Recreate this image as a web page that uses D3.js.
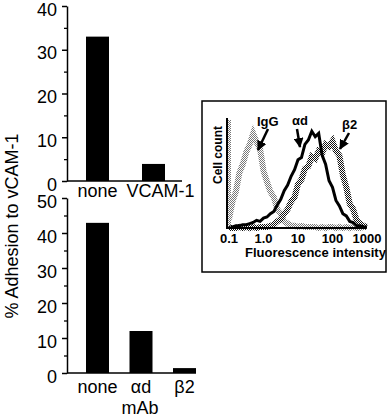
<!DOCTYPE html>
<html>
<head>
<meta charset="utf-8">
<script src="https://cdn.jsdelivr.net/npm/d3@7"></script>
<style>
  body { margin: 0; background: #fff; }
  svg { display: block; font-family: "Liberation Sans", Arial, sans-serif; }
</style>
</head>
<body>
<div id="chart"></div>
<script>
// top panel: adhesion to VCAM-1, with or without blocking VCAM-1
var topCats = ['none', 'VCAM-1'];
var topValues = [33, 3.9];
var topTicks = [0, 10, 20, 30, 40];

// bottom panel: adhesion with mAb
var botCats = ['none', 'αd', 'β2'];
var botValues = [42.9, 12, 1.4];
var botTicks = [0, 10, 20, 30, 40, 50];

// inset histogram: log10 fluorescence bins and cell counts (0-100 of plot height)
var binLogs = [-1.0, -0.9, -0.8, -0.7, -0.6, -0.5, -0.4, -0.3, -0.2, -0.1,
               0.0, 0.1, 0.2, 0.3, 0.4, 0.5, 0.6, 0.7, 0.8, 0.9,
               1.0, 1.1, 1.2, 1.3, 1.4, 1.5, 1.6, 1.7, 1.8, 1.9,
               2.0, 2.1, 2.2, 2.3, 2.4, 2.5, 2.6, 2.7, 2.8, 2.9, 3.0];
var iggCounts = [8, 24, 33, 50, 58, 69, 76, 86, 78, 72,
                 52, 42, 33, 28, 17, 13, 6, 4, 2, 2,
                 1, 2, 1, 1, 1, 1, 0, 1, 0, 1,
                 1, 0, 1, 0, 1, 0, 1, 0, 0, 1, 1];
var adCounts = [1, 1, 2, 2, 3, 3, 4, 5, 7, 6,
                9, 10, 13, 15, 21, 26, 34, 39, 47, 53,
                62, 64, 76, 80, 88, 83, 86, 66, 58, 43,
                37, 25, 20, 13, 11, 6, 5, 2, 2, 1, 1];
var b2Counts = [0, 0, 0, 1, 0, 1, 0, 1, 0, 1,
                1, 1, 2, 3, 6, 8, 13, 17, 24, 28,
                40, 44, 54, 56, 65, 63, 70, 68, 76, 74,
                79, 70, 66, 48, 37, 22, 17, 7, 4, 2, 1];
var histTicks = [0.1, 1, 10, 100, 1000];
var histTickLabels = ['0.1', '1.0', '10', '100', '1000'];

var svg = d3.select('#chart').append('svg')
    .attr('width', 389)
    .attr('height', 419);

var defs = svg.append('defs');

function checker(id, color) {
    var p = defs.append('pattern')
        .attr('id', id)
        .attr('width', 2).attr('height', 2)
        .attr('patternUnits', 'userSpaceOnUse');
    p.append('rect').attr('width', 1).attr('height', 1).attr('fill', color);
    p.append('rect').attr('x', 1).attr('y', 1).attr('width', 1).attr('height', 1).attr('fill', color);
}
checker('light', '#777');
checker('dark', '#111');

defs.append('marker')
    .attr('id', 'head')
    .attr('markerUnits', 'userSpaceOnUse')
    .attr('viewBox', '0 0 10 10')
    .attr('refX', 9).attr('refY', 5)
    .attr('markerWidth', 10).attr('markerHeight', 10)
    .attr('orient', 'auto')
    .append('path')
    .attr('d', 'M0,0 L10,5 L0,10 Z')
    .attr('fill', '#000');

// y axis title
svg.append('text')
    .attr('transform', 'translate(18,226) rotate(-90)')
    .attr('text-anchor', 'middle')
    .style('font-size', '18px')
    .text('% Adhesion to vCAM-1');

function barPanel(cats, values, ticks, yMax, yRange, xRange, axisEnd) {
    var g = svg.append('g');
    var y = d3.scaleLinear().domain([0, yMax]).range(yRange);
    var x = d3.scalePoint().domain(cats).range(xRange);
    var barW = 23;

    var minor = d3.range(5, yMax, 10);
    g.append('g')
        .attr('transform', 'translate(67,0)')
        .call(d3.axisLeft(y).tickValues(minor).tickSize(3).tickFormat(''))
        .call(function(a) { a.select('.domain').remove(); a.selectAll('line').attr('stroke-width', 1.3); });

    var ax = g.append('g')
        .attr('transform', 'translate(67,0)')
        .call(d3.axisLeft(y).tickValues(ticks).tickSize(5).tickSizeOuter(0).tickPadding(5));
    ax.select('.domain').attr('stroke-width', 1.5);
    ax.selectAll('line').attr('stroke-width', 1.5);
    ax.selectAll('text')
        .style('font-size', '18px')
        .style('font-family', '"Liberation Sans", Arial, sans-serif')
        .attr('dy', '0.5em');

    g.append('line')
        .attr('x1', 67).attr('x2', axisEnd)
        .attr('y1', y(0)).attr('y2', y(0))
        .attr('stroke', '#000').attr('stroke-width', 1.5);

    g.selectAll('rect.bar')
        .data(values)
        .join('rect')
        .attr('class', 'bar')
        .attr('x', function(d, i) { return x(cats[i]) - barW / 2; })
        .attr('y', function(d) { return y(d); })
        .attr('width', barW)
        .attr('height', function(d) { return y(0) - y(d); })
        .attr('fill', '#000');
    return { x: x, y: y, g: g };
}

var topPanel = barPanel(topCats, topValues, topTicks, 40, [181, 6], [97.5, 153.5], 182);
topPanel.g.selectAll('text.cat')
    .data(topCats)
    .join('text')
    .attr('class', 'cat')
    .attr('x', function(d, i) { return i === 0 ? topPanel.x(d) : topPanel.x(d) + 7; })
    .attr('y', 197)
    .attr('text-anchor', 'middle')
    .style('font-size', '18px')
    .text(function(d) { return d; });

var botPanel = barPanel(botCats, botValues, botTicks, 50, [373, 198], [97.5, 184.5], 196);
botPanel.g.selectAll('text.cat')
    .data(botCats)
    .join('text')
    .attr('class', 'cat')
    .attr('x', function(d) { return botPanel.x(d); })
    .attr('y', 393)
    .attr('text-anchor', 'middle')
    .style('font-size', '18px')
    .text(function(d) { return d; });
botPanel.g.append('text')
    .attr('x', 140).attr('y', 414)
    .attr('text-anchor', 'middle')
    .style('font-size', '18px')
    .text('mAb');

// inset histogram
var inset = svg.append('g');
defs.append('clipPath').attr('id', 'box')
    .append('rect').attr('x', 202).attr('y', 101).attr('width', 184).attr('height', 171);

inset.append('rect')
    .attr('x', 202).attr('y', 101)
    .attr('width', 184).attr('height', 171)
    .attr('fill', '#fff')
    .attr('stroke', '#000')
    .attr('stroke-width', 1.5);

var hx = d3.scaleLog().domain([0.1, 1000]).range([229, 367]);
var hy = d3.scaleLinear().domain([0, 100]).range([228, 118]);

var line = d3.line()
    .x(function(d) { return hx(Math.pow(10, d[0])); })
    .y(function(d) { return hy(d[1]); });

function pairs(counts) { return binLogs.map(function(l, i) { return [l, counts[i]]; }); }

inset.append('path')
    .datum(pairs(iggCounts))
    .attr('d', line)
    .attr('fill', 'none')
    .attr('stroke', 'url(#light)')
    .attr('stroke-width', 6);

inset.append('path')
    .datum(pairs(b2Counts))
    .attr('d', line)
    .attr('fill', 'none')
    .attr('stroke', 'url(#dark)')
    .attr('stroke-width', 6);

inset.append('path')
    .datum(pairs(adCounts))
    .attr('d', line)
    .attr('fill', 'none')
    .attr('stroke', '#000')
    .attr('stroke-width', 3);

// left edge of the histogram
inset.append('line')
    .attr('x1', 227).attr('x2', 227)
    .attr('y1', 118).attr('y2', 229)
    .attr('stroke', '#000').attr('stroke-width', 2);
inset.append('line')
    .attr('x1', 229.5).attr('x2', 229.5)
    .attr('y1', 120).attr('y2', 229)
    .attr('stroke', 'url(#light)').attr('stroke-width', 3);
inset.append('line')
    .attr('x1', 227).attr('x2', 366)
    .attr('y1', 228).attr('y2', 228)
    .attr('stroke', '#000').attr('stroke-width', 2);

inset.append('text')
    .attr('transform', 'translate(222,155) rotate(-90)')
    .attr('text-anchor', 'middle')
    .style('font-size', '12px')
    .style('font-weight', 'bold')
    .text('Cell count');

inset.selectAll('text.htick')
    .data(histTicks)
    .join('text')
    .attr('class', 'htick')
    .attr('x', function(d) { return hx(d); })
    .attr('y', 243)
    .attr('text-anchor', 'middle')
    .style('font-size', '13px')
    .style('font-weight', 'bold')
    .text(function(d, i) { return histTickLabels[i]; });

inset.append('text')
    .attr('x', 245).attr('y', 257)
    .style('font-size', '13px')
    .style('font-weight', 'bold')
    .text('Fluorescence intensity');

// arrows and labels
var arrows = [
    { label: 'IgG', tx: 257, ty: 126, x1: 268, y1: 129, x2: 258, y2: 150 },
    { label: 'αd', tx: 292, ty: 125, x1: 297, y1: 129, x2: 300, y2: 147 },
    { label: 'β2', tx: 342, ty: 129, x1: 349, y1: 133, x2: 340, y2: 149 }
];
inset.selectAll('line.arrow')
    .data(arrows)
    .join('line')
    .attr('class', 'arrow')
    .attr('x1', function(d) { return d.x1; })
    .attr('y1', function(d) { return d.y1; })
    .attr('x2', function(d) { return d.x2; })
    .attr('y2', function(d) { return d.y2; })
    .attr('stroke', '#000')
    .attr('stroke-width', 2.5)
    .attr('marker-end', 'url(#head)');
inset.selectAll('text.alabel')
    .data(arrows)
    .join('text')
    .attr('class', 'alabel')
    .attr('x', function(d) { return d.tx; })
    .attr('y', function(d) { return d.ty; })
    .style('font-size', '13px')
    .style('font-weight', 'bold')
    .text(function(d) { return d.label; });
</script>
</body>
</html>
